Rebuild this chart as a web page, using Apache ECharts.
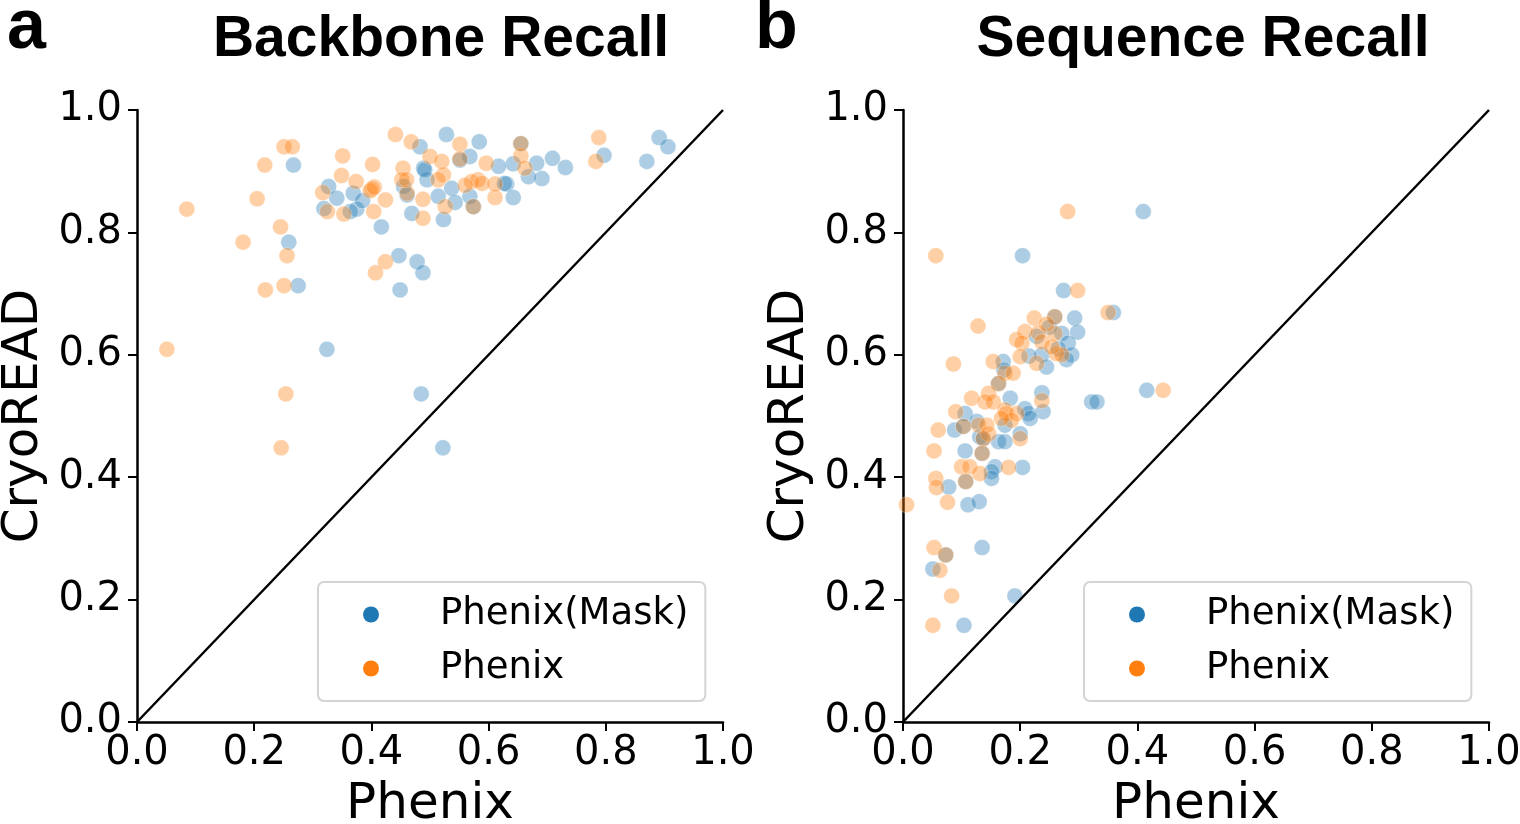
<!DOCTYPE html>
<html>
<head>
<meta charset="utf-8">
<script src="https://cdn.jsdelivr.net/npm/echarts@6/dist/echarts.min.js"></script>
<style>
html,body{margin:0;padding:0;background:#fff;}
#chart{width:1520px;height:824px;}
</style>
</head>
<body>
<div id="chart"></div>
<script>
// ---- data ----
const seriesNames = ['Phenix(Mask)', 'Phenix'];
const panelTitles = ['Backbone Recall', 'Sequence Recall'];
const panelLetters = ['a', 'b'];
const xAxisName = 'Phenix';
const yAxisName = 'CryoREAD';
const tickValues = [0.0, 0.2, 0.4, 0.6, 0.8, 1.0];
const diagonal = [[0, 0], [1, 1]];

const backboneMask = [
[0.267,0.910],[0.259,0.784],[0.275,0.713],[0.417,0.809],[0.447,0.762],[0.478,0.752],[0.488,0.734],[0.449,0.706],[0.324,0.609],[0.485,0.536],[0.522,0.448],
[0.327,0.875],[0.341,0.856],[0.369,0.864],[0.375,0.838],[0.364,0.834],[0.319,0.839],[0.483,0.940],[0.489,0.905],[0.495,0.886],[0.469,0.831],[0.461,0.861],
[0.528,0.960],[0.584,0.948],[0.709,0.921],[0.731,0.906],[0.797,0.926],[0.870,0.916],[0.891,0.955],[0.906,0.940],[0.655,0.945],[0.682,0.913],[0.691,0.888],
[0.668,0.891],[0.642,0.912],[0.631,0.879],[0.642,0.857],[0.617,0.908],[0.568,0.924],[0.551,0.918],[0.537,0.872],[0.514,0.859],[0.543,0.849],[0.568,0.859],
[0.574,0.842],[0.523,0.821],[0.491,0.902],[0.627,0.880],[0.455,0.875],[0.385,0.852]
];
const backbonePhenix = [
[0.085,0.838],[0.251,0.940],[0.265,0.940],[0.218,0.910],[0.205,0.855],[0.245,0.809],[0.181,0.784],[0.256,0.762],[0.219,0.706],[0.251,0.713],[0.424,0.752],
[0.407,0.734],[0.051,0.609],[0.254,0.536],[0.246,0.448],
[0.441,0.960],[0.468,0.948],[0.351,0.925],[0.402,0.911],[0.349,0.893],[0.374,0.883],[0.317,0.865],[0.401,0.871],[0.398,0.868],[0.405,0.874],[0.424,0.853],
[0.404,0.834],[0.353,0.830],[0.325,0.834],[0.454,0.905],[0.452,0.886],[0.461,0.864],[0.500,0.924],[0.488,0.854],[0.488,0.823],
[0.788,0.955],[0.783,0.916],[0.655,0.925],[0.662,0.905],[0.596,0.913],[0.582,0.886],[0.571,0.883],[0.551,0.944],[0.551,0.920],[0.520,0.916],[0.523,0.894],
[0.514,0.886],[0.611,0.857],[0.611,0.879],[0.526,0.842],[0.560,0.877],[0.460,0.886],[0.589,0.880],[0.655,0.945],[0.574,0.842]
];
const sequenceMask = [
[0.410,0.834],[0.204,0.762],[0.274,0.705],[0.359,0.669],[0.259,0.662],[0.293,0.660],[0.298,0.637],[0.271,0.635],[0.282,0.619],[0.288,0.600],[0.279,0.592],
[0.237,0.600],[0.215,0.598],[0.171,0.589],[0.245,0.580],[0.172,0.575],[0.163,0.553],[0.183,0.529],[0.237,0.538],[0.239,0.507],[0.322,0.523],[0.331,0.523],
[0.416,0.542],[0.106,0.504],[0.208,0.512],[0.214,0.504],[0.217,0.496],[0.174,0.485],[0.088,0.477],[0.103,0.483],[0.126,0.491],[0.131,0.466],[0.137,0.463],
[0.163,0.458],[0.174,0.458],[0.200,0.471],[0.106,0.443],[0.135,0.439],[0.157,0.417],[0.151,0.409],[0.151,0.398],[0.204,0.416],[0.107,0.393],[0.078,0.384],
[0.111,0.355],[0.130,0.360],[0.073,0.273],[0.135,0.285],[0.051,0.250],[0.191,0.206],[0.104,0.158],[0.228,0.630],[0.250,0.645],[0.265,0.610]
];
const sequencePhenix = [
[0.281,0.834],[0.056,0.762],[0.298,0.705],[0.350,0.669],[0.128,0.647],[0.259,0.662],[0.224,0.660],[0.208,0.638],[0.194,0.625],[0.231,0.636],[0.237,0.621],
[0.259,0.635],[0.203,0.619],[0.200,0.597],[0.262,0.602],[0.271,0.600],[0.086,0.585],[0.154,0.589],[0.228,0.586],
[0.174,0.570],[0.188,0.570],[0.163,0.553],[0.117,0.529],[0.146,0.537],[0.140,0.523],[0.154,0.523],[0.237,0.525],[0.090,0.507],[0.174,0.510],[0.176,0.504],
[0.194,0.504],[0.185,0.493],[0.168,0.496],[0.060,0.477],[0.103,0.483],[0.129,0.485],[0.143,0.485],[0.146,0.471],[0.137,0.463],[0.200,0.463],[0.053,0.443],
[0.135,0.439],[0.100,0.417],[0.114,0.417],[0.131,0.406],[0.180,0.416],[0.056,0.398],[0.057,0.383],[0.107,0.393],[0.006,0.355],[0.076,0.359],[0.053,0.285],
[0.073,0.273],[0.063,0.248],[0.083,0.206],[0.051,0.158],[0.444,0.542],[0.254,0.613],[0.245,0.650]
];
const colors = ['#1f77b4', '#ff7f0e'];

// ---- chart ----
const chart = echarts.init(document.getElementById('chart'), null, {renderer: 'canvas'});
const tickFont = 'DejaVu Sans';
const panelData = [[backboneMask, backbonePhenix], [sequenceMask, sequencePhenix]];
const gridLefts = [137, 903];
const titleCenters = [441, 1203];
const letterLefts = [7, 755];
const legendLefts = [318, 1084];

function makeXAxis(i) {
  return {
    gridIndex: i, type: 'value', min: 0, max: 1, interval: 0.2,
    name: xAxisName, nameLocation: 'middle', nameGap: 58,
    nameTextStyle: {fontFamily: tickFont, fontSize: 50, color: '#000'},
    axisLine: {show: true, onZero: false, lineStyle: {color: '#000', width: 2.5}},
    axisTick: {show: true, length: 9, lineStyle: {color: '#000', width: 2}},
    axisLabel: {fontFamily: tickFont, fontSize: 40, color: '#000', margin: 12,
      formatter: v => v.toFixed(1), showMinLabel: true, showMaxLabel: true},
    splitLine: {show: false}
  };
}
function makeYAxis(i) {
  return {
    gridIndex: i, type: 'value', min: 0, max: 1, interval: 0.2,
    name: yAxisName, nameLocation: 'middle', nameGap: 88,
    nameTextStyle: {fontFamily: tickFont, fontSize: 50, color: '#000'},
    axisLine: {show: true, onZero: false, lineStyle: {color: '#000', width: 2.5}},
    axisTick: {show: true, length: 9, lineStyle: {color: '#000', width: 2}},
    axisLabel: {fontFamily: tickFont, fontSize: 40, color: '#000', margin: 15,
      formatter: v => v.toFixed(1), showMinLabel: true, showMaxLabel: true},
    splitLine: {show: false}
  };
}

const series = [];
panelData.forEach((pair, i) => {
  pair.forEach((pts, k) => {
    series.push({
      name: seriesNames[k], type: 'scatter', xAxisIndex: i, yAxisIndex: i,
      data: pts, symbol: 'circle', symbolSize: 16,
      itemStyle: {color: colors[k], opacity: 0.37, borderColor: '#ffffff', borderWidth: 0.8},
      emphasis: {disabled: true}, z: 2 + k
    });
  });
  series.push({
    type: 'line', xAxisIndex: i, yAxisIndex: i, data: diagonal,
    symbol: 'none', lineStyle: {color: '#000', width: 2.5}, z: 5,
    emphasis: {disabled: true}, silent: true
  });
});

const legends = legendLefts.map(l => ({
  left: l, top: 582, orient: 'vertical',
  padding: [14, 17, 14, 45], itemGap: 17,
  itemWidth: 16, itemHeight: 16, icon: 'circle',
  borderColor: '#d4d4d4', borderWidth: 2, borderRadius: 6,
  backgroundColor: '#fff',
  textStyle: {fontFamily: tickFont, fontSize: 37, color: '#000', padding: [0, 0, 0, 56]},
  selectedMode: false,
  data: seriesNames.map((n, k) => ({name: n, itemStyle: {color: colors[k], opacity: 1, borderWidth: 0}}))
}));

const titles = [];
panelTitles.forEach((t, i) => {
  titles.push({text: t, left: titleCenters[i], top: 12, textAlign: 'center', padding: 0,
    textStyle: {fontFamily: 'Liberation Sans', fontWeight: 'bold', fontSize: 57, color: '#000'}});
});
panelLetters.forEach((t, i) => {
  titles.push({text: t, left: letterLefts[i], top: -6, padding: 0,
    textStyle: {fontFamily: 'Liberation Sans', fontWeight: 'bold', fontSize: 70, color: '#000'}});
});

chart.setOption({
  animation: false,
  backgroundColor: '#fff',
  title: titles,
  grid: gridLefts.map(l => ({left: l, top: 110, width: 586, height: 612, containLabel: false, outerBoundsMode: 'none'})),
  xAxis: [makeXAxis(0), makeXAxis(1)],
  yAxis: [makeYAxis(0), makeYAxis(1)],
  legend: legends,
  series: series
});
</script>
</body>
</html>
